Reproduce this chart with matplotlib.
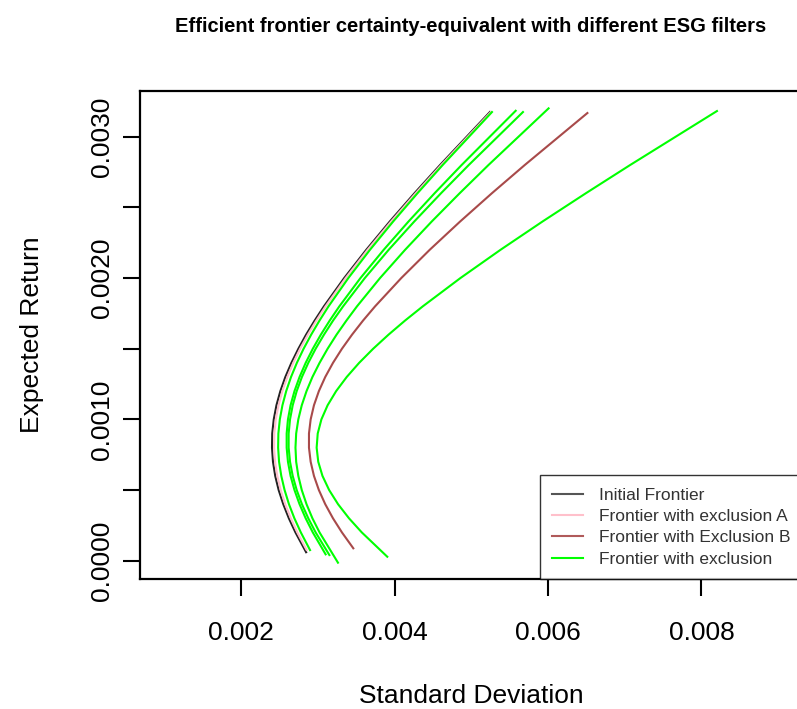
import matplotlib
matplotlib.use("Agg")
import matplotlib.pyplot as plt

plt.rcParams['font.family'] = ['Liberation Sans', 'DejaVu Sans']

# expected return (y) and standard deviation (x)
mu_grid = [0.0002, 0.0003, 0.0004, 0.0005, 0.0006, 0.0007, 0.0008, 0.0009, 0.0010,
           0.0011, 0.0012, 0.0013, 0.0014, 0.0015, 0.0016, 0.0017, 0.0018, 0.0020,
           0.0022, 0.0024, 0.0026, 0.0028]

mu_initial = [0.00006] + mu_grid + [0.003175]
sd_initial = [0.002846, 0.002707, 0.002621, 0.002548, 0.002488, 0.002443, 0.002414, 0.002401,
              0.002404, 0.002424, 0.002459, 0.002510, 0.002575, 0.002654, 0.002745, 0.002846,
              0.002958, 0.003078, 0.003342, 0.003630, 0.003936, 0.004258, 0.004592, 0.005242]

mu_excl_a = [0.000076] + mu_grid + [0.003175]
sd_excl_a = [0.002852, 0.002731, 0.002646, 0.002573, 0.002514, 0.002470, 0.002441, 0.002428,
             0.002431, 0.002450, 0.002486, 0.002536, 0.002601, 0.002678, 0.002768, 0.002869,
             0.002980, 0.003099, 0.003361, 0.003647, 0.003953, 0.004274, 0.004607, 0.005255]

mu_excl_b = [0.0000877] + mu_grid + [0.003168]
sd_excl_b = [0.003461, 0.003313, 0.003196, 0.003095, 0.003012, 0.002948, 0.002905, 0.002883,
             0.002883, 0.002905, 0.002948, 0.003012, 0.003095, 0.003196, 0.003313, 0.003445,
             0.003589, 0.003745, 0.004086, 0.004457, 0.004853, 0.005267, 0.005696, 0.006513]

mu_excl_1 = [0.000075] + mu_grid + [0.003175]
sd_excl_1 = [0.002897, 0.002777, 0.002693, 0.002622, 0.002565, 0.002522, 0.002493, 0.002481,
             0.002484, 0.002503, 0.002537, 0.002586, 0.002649, 0.002725, 0.002813, 0.002912,
             0.003021, 0.003138, 0.003396, 0.003678, 0.003980, 0.004297, 0.004626, 0.005269]

mu_excl_2 = [0.000045] + mu_grid + [0.003184]
sd_excl_2 = [0.003100, 0.002933, 0.002840, 0.002760, 0.002694, 0.002643, 0.002609, 0.002592,
             0.002592, 0.002609, 0.002643, 0.002694, 0.002760, 0.002840, 0.002933, 0.003038,
             0.003154, 0.003279, 0.003554, 0.003857, 0.004180, 0.004520, 0.004873, 0.005578]

mu_excl_3 = [0.00004] + mu_grid + [0.003175]
sd_excl_3 = [0.003149, 0.002970, 0.002874, 0.002791, 0.002723, 0.002671, 0.002636, 0.002618,
             0.002618, 0.002636, 0.002671, 0.002723, 0.002791, 0.002874, 0.002970, 0.003079,
             0.003198, 0.003328, 0.003611, 0.003922, 0.004255, 0.004604, 0.004966, 0.005673]

mu_excl_4 = [-0.000014] + mu_grid + [0.003201]
sd_excl_4 = [0.003261, 0.003021, 0.002928, 0.002851, 0.002789, 0.002744, 0.002716, 0.002707,
             0.002716, 0.002744, 0.002789, 0.002851, 0.002928, 0.003021, 0.003126, 0.003243,
             0.003372, 0.003509, 0.003809, 0.004136, 0.004483, 0.004847, 0.005223, 0.006007]

mu_excl_5 = [0.000028] + mu_grid + [0.003182]
sd_excl_5 = [0.003904, 0.003572, 0.003405, 0.003262, 0.003146, 0.003059, 0.003004, 0.002983,
             0.002997, 0.003045, 0.003126, 0.003237, 0.003375, 0.003537, 0.003720, 0.003921,
             0.004137, 0.004367, 0.004857, 0.005380, 0.005927, 0.006492, 0.007070, 0.008202]

x_ticks = [0.002, 0.004, 0.006, 0.008]
x_labels = ["0.002", "0.004", "0.006", "0.008"]
y_ticks = [0.0, 0.0005, 0.0010, 0.0015, 0.0020, 0.0025, 0.0030]
y_labels = ["0.0000", "", "0.0010", "", "0.0020", "", "0.0030"]

green = "#00ff00"

fig = plt.figure(figsize=(7.97, 7.09), dpi=100)
ax = fig.add_axes([140 / 797, 130 / 709, 662.7 / 797, 488.3 / 709])

ax.plot(sd_initial, mu_initial, color="#222222", lw=1.5)
ax.plot(sd_excl_a, mu_excl_a, color="pink", lw=1.5)
ax.plot(sd_excl_b, mu_excl_b, color="#a84a4a", lw=1.5)
ax.plot(sd_excl_1, mu_excl_1, color=green, lw=1.5)
ax.plot(sd_excl_2, mu_excl_2, color=green, lw=1.5)
ax.plot(sd_excl_3, mu_excl_3, color=green, lw=1.5)
ax.plot(sd_excl_4, mu_excl_4, color=green, lw=1.5)
ax.plot(sd_excl_5, mu_excl_5, color=green, lw=1.5)

ax.set_xlim(0.00068, 0.00932)
ax.set_ylim(-0.0001295, 0.003326)

ax.set_xticks(x_ticks)
ax.set_xticklabels(x_labels)
ax.set_yticks(y_ticks)
ax.set_yticklabels(y_labels)
for lab in ax.get_yticklabels():
    lab.set_rotation(90)
    lab.set_va("center")
    lab.set_ha("right")

ax.tick_params(axis="both", length=12, width=1.5, labelsize=19)
ax.tick_params(axis="x", pad=18)
ax.tick_params(axis="y", pad=7)
for sp in ax.spines.values():
    sp.set_linewidth(1.6)

ax.set_xlabel("Standard Deviation", fontsize=19, labelpad=28)
ax.set_ylabel("Expected Return", fontsize=19, labelpad=33)

fig.text(471 / 797, 1 - 27 / 709,
         "Efficient frontier certainty-equivalent with different ESG filters",
         ha="center", va="center", fontsize=14.5, fontweight="bold")

handles = [
    plt.Line2D([], [], color="#555555", lw=1.5),
    plt.Line2D([], [], color="pink", lw=1.5),
    plt.Line2D([], [], color="#b05a5a", lw=1.5),
    plt.Line2D([], [], color=green, lw=1.5),
]
leg = ax.legend(handles,
                ["Initial Frontier", "Frontier with exclusion A",
                 "Frontier with Exclusion B", "Frontier with exclusion"],
                loc="lower right", bbox_to_anchor=(1, 0), borderaxespad=0,
                fontsize=12.5, frameon=True, fancybox=False,
                handlelength=1.8, handletextpad=0.9, labelspacing=0.36,
                borderpad=0.7)
leg.get_frame().set_edgecolor("black")
leg.get_frame().set_linewidth(1.0)
for t in leg.get_texts():
    t.set_color("#333333")

fig.savefig("out.png", dpi=100)
